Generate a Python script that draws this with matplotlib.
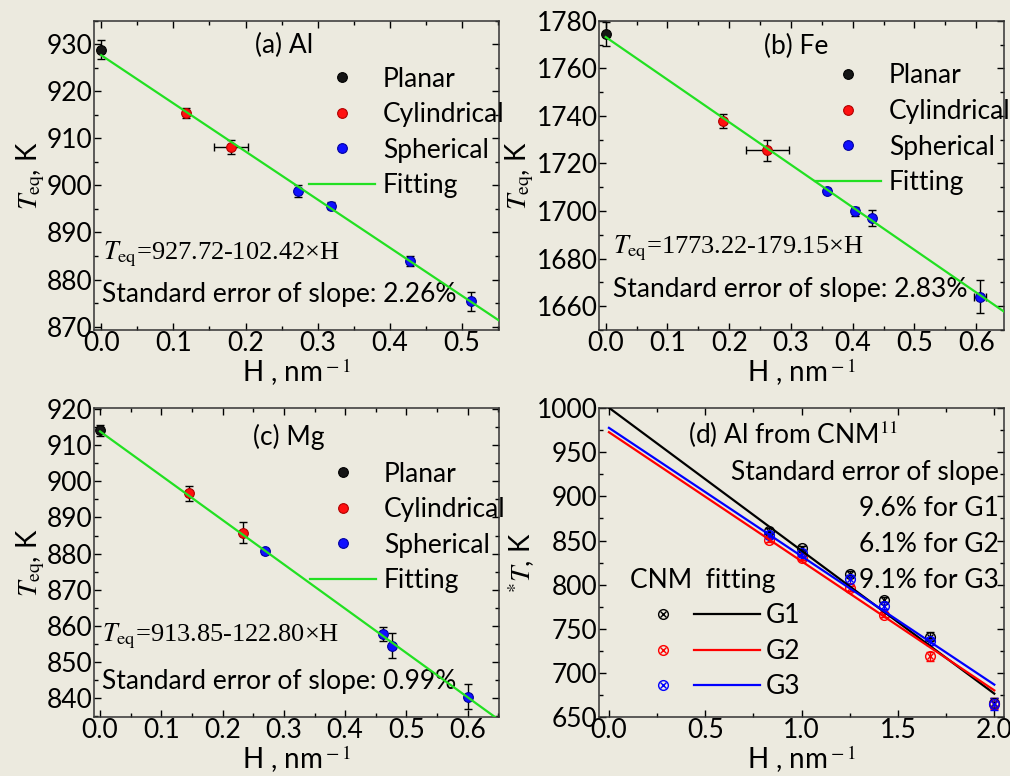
import numpy as np
import matplotlib
matplotlib.use('Agg')
import matplotlib.pyplot as plt
from matplotlib.lines import Line2D
from matplotlib.ticker import MultipleLocator

plt.rcParams['font.family'] = ['Lato', 'DejaVu Sans']
plt.rcParams['mathtext.fontset'] = 'stix'

BG = '#ECEADF'
GREEN = '#22E022'

# ---- (a) Al ----
al_h = [[0.0], [0.118, 0.180], [0.272, 0.318, 0.428, 0.512]]
al_t = [[928.9], [915.4, 908.2], [898.8, 895.7, 883.9, 875.4]]
al_terr = [[2.0], [1.0, 1.5], [1.2, 0.8, 1.0, 2.0]]
al_herr = [[0.0], [0.0, 0.023], [0.0, 0.0, 0.0, 0.0]]
al_fit = [927.72, -102.42]

# ---- (b) Fe ----
fe_h = [[0.0], [0.190, 0.262], [0.358, 0.403, 0.431, 0.606]]
fe_t = [[1774.4], [1738.0, 1725.6], [1708.5, 1699.8, 1697.0, 1664.0]]
fe_terr = [[5.0], [3.0, 4.5], [1.0, 2.0, 3.5, 7.0]]
fe_herr = [[0.0], [0.0, 0.035], [0.0, 0.0, 0.0, 0.01]]
fe_fit = [1773.22, -179.15]

# ---- (c) Mg ----
mg_h = [[0.0], [0.145, 0.233], [0.270, 0.461, 0.476, 0.601]]
mg_t = [[914.2], [896.7, 885.8], [880.6, 857.7, 854.5, 840.3]]
mg_terr = [[1.5], [2.0, 3.0], [0.7, 2.0, 3.5, 3.5]]
mg_herr = [[0.0], [0.0, 0.0], [0.0, 0.0, 0.0, 0.0]]
mg_fit = [913.85, -122.80]

shape_names = ['Planar', 'Cylindrical', 'Spherical']
shape_colors = ['#151515', '#FF1010', '#1010FF']
shape_edges = ['#000000', '#B00000', '#0000A0']

# ---- (d) Al from CNM ----
cnm_h = [0.833, 1.0, 1.25, 1.429, 1.667, 2.0]
cnm_t = [[861, 841, 812, 783, 741, 666],
         [851, 830, 796, 766, 719, 665],
         [856, 836, 806, 776, 736, 665]]
cnm_err = [[3, 3, 3, 3, 5, 6],
           [3, 2, 3, 3, 5, 6],
           [3, 3, 5, 4, 4, 7]]
cnm_fit = [[1000.5, -162.0], [972.8, -146.3], [977.7, -145.5]]
cnm_names = ['G1', 'G2', 'G3']
cnm_colors = ['black', 'red', 'blue']
cnm_slope_err = ['9.6%', '6.1%', '9.1%']

FS = 19

fig = plt.figure(figsize=(10.1, 7.76), dpi=100, facecolor=BG)


def style_axes(ax, xmaj, xmin, ymaj, ymin):
    ax.set_facecolor(BG)
    ax.xaxis.set_major_locator(MultipleLocator(xmaj))
    ax.xaxis.set_minor_locator(MultipleLocator(xmin))
    ax.yaxis.set_major_locator(MultipleLocator(ymaj))
    ax.yaxis.set_minor_locator(MultipleLocator(ymin))
    ax.tick_params(which='both', direction='in', top=True, right=True, width=1)
    ax.tick_params(which='major', length=5, labelsize=FS, pad=1)
    ax.tick_params(which='minor', length=3)
    for s in ax.spines.values():
        s.set_linewidth(1.1)
        s.set_color('#333333')


def shape_panel(rect, hs, ts, terrs, herrs, fit, xlim, ylim, ticks, title, tpos, eq, spct, legpos):
    ax = fig.add_axes(rect)
    style_axes(ax, *ticks)
    for h, t, te, he, c, ec in zip(hs, ts, terrs, herrs, shape_colors, shape_edges):
        ax.errorbar(h, t, yerr=te, xerr=he, fmt='none', ecolor='black', elinewidth=1,
                    capsize=3, capthick=1, zorder=2)
        ax.plot(h, t, ls='none', marker='o', ms=7, mfc=c, mec=ec, mew=0.8, zorder=3)
    xf = np.array([0.0, xlim[1]])
    ax.plot(xf, fit[0] + fit[1] * xf, color=GREEN, lw=1.6, zorder=4)
    ax.set_xlim(*xlim)
    ax.set_ylim(*ylim)
    ax.set_xlabel(r'H , nm$^{\rm -1}$', fontsize=FS + 1, labelpad=0)
    ax.set_ylabel(r'$T_{\rm eq}$, K', fontsize=FS + 1, labelpad=0)
    ax.text(tpos[0], tpos[1], title, transform=ax.transAxes, fontsize=FS, ha='center', va='center')
    ax.text(eq[0], eq[1], r'$T_{\rm eq}$' + eq[2], transform=ax.transAxes, fontsize=19,
            family='Liberation Serif', va='center')
    ax.text(spct[0], spct[1], spct[2], transform=ax.transAxes, fontsize=FS, va='center')
    handles = [Line2D([], [], ls='none', marker='o', ms=7, mfc=c, mec=ec, mew=0.8)
               for c, ec in zip(shape_colors, shape_edges)]
    handles.append(Line2D([], [], color=GREEN, lw=1.6))
    ax.legend(handles, shape_names + ['Fitting'], loc='upper left', bbox_to_anchor=legpos,
              frameon=False, fontsize=FS, handlelength=2.5, handletextpad=0.3,
              labelspacing=0.4, borderpad=0)
    return ax


shape_panel([0.093, 0.575, 0.401, 0.398], al_h, al_t, al_terr, al_herr, al_fit,
            (-0.01, 0.551), (869.3, 935), (0.1, 0.05, 10, 5),
            '(a) Al', (0.47, 0.922), (0.022, 0.243, '=927.72-102.42×H'),
            (0.019, 0.113, 'Standard error of slope: 2.26%'), (0.499, 0.895))
shape_panel([0.593, 0.575, 0.401, 0.398], fe_h, fe_t, fe_terr, fe_herr, fe_fit,
            (-0.011, 0.645), (1650, 1780), (0.1, 0.05, 20, 10),
            '(b) Fe', (0.486, 0.917), (0.035, 0.265, '=1773.22-179.15×H'),
            (0.035, 0.129, 'Standard error of slope: 2.83%'), (0.501, 0.905))
shape_panel([0.093, 0.076, 0.401, 0.398], mg_h, mg_t, mg_terr, mg_herr, mg_fit,
            (-0.01, 0.651), (834.7, 920.3), (0.1, 0.05, 10, 5),
            '(c) Mg', (0.481, 0.907), (0.019, 0.26, '=913.85-122.80×H'),
            (0.019, 0.114, 'Standard error of slope: 0.99%'), (0.501, 0.87))

# ---- panel (d) ----
ax = fig.add_axes([0.593, 0.076, 0.401, 0.398])
style_axes(ax, 0.5, 0.25, 50, 25)
xf = np.array([0.0, 2.0])
mk_handles, ln_handles = [], []
for t, e, fit, c in zip(cnm_t, cnm_err, cnm_fit, cnm_colors):
    ax.errorbar(cnm_h, t, yerr=e, fmt='none', ecolor=c, elinewidth=1, capsize=3, capthick=1, zorder=2)
    ax.plot(cnm_h, t, ls='none', marker='o', ms=7, mfc='none', mec=c, mew=1, zorder=3)
    ax.plot(cnm_h, t, ls='none', marker='x', ms=5, mec=c, mew=1, zorder=3)
    ln, = ax.plot(xf, fit[0] + fit[1] * xf, color=c, lw=1.6, zorder=4)
    mk_handles.append((Line2D([], [], ls='none', marker='o', ms=7, mfc='none', mec=c, mew=1),
                       Line2D([], [], ls='none', marker='x', ms=5, mec=c, mew=1)))
    ln_handles.append(ln)
ax.set_xlim(-0.052, 2.05)
ax.set_ylim(650, 1000)
ax.set_xlabel(r'H , nm$^{\rm -1}$', fontsize=FS + 1, labelpad=0)
ax.set_ylabel(r'$^{*}T$, K', fontsize=FS + 1, labelpad=0)
ax.text(0.478, 0.913, r'(d) Al from CNM$^{\rm 11}$', transform=ax.transAxes, fontsize=FS,
        ha='center', va='center')
ax.text(0.987, 0.792, 'Standard error of slope', transform=ax.transAxes, fontsize=FS,
        ha='right', va='center')
for i, (p, n) in enumerate(zip(cnm_slope_err, cnm_names)):
    ax.text(0.987, 0.675 - 0.1165 * i, f'{p} for {n}', transform=ax.transAxes, fontsize=FS,
            ha='right', va='center')
ax.legend(mk_handles + ln_handles, ['', '', ''] + cnm_names, ncol=2, loc='upper left',
          bbox_to_anchor=(0.043, 0.526), frameon=False, fontsize=FS, title='CNM  fitting',
          title_fontsize=FS, handlelength=2.5, handletextpad=0.2, columnspacing=-0.25,
          labelspacing=0.4, borderpad=0, alignment='left')

fig.savefig('out.png', dpi=100, facecolor=BG)
